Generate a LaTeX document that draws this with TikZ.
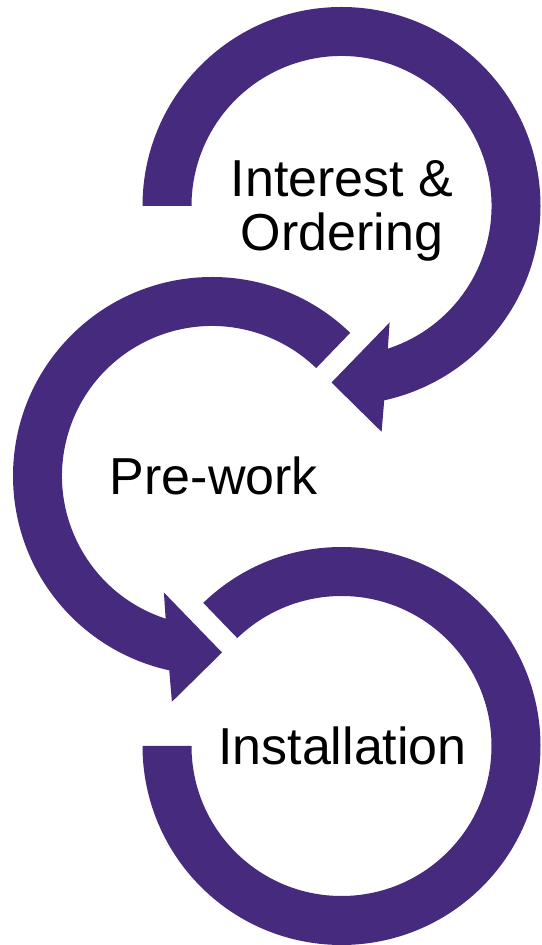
\documentclass[tikz,border=0pt]{standalone}
\usepackage{fontspec}
\setmainfont{Liberation Sans}
\usetikzlibrary{calc}
\definecolor{arcpurple}{HTML}{452A7D}
\begin{document}
\begin{tikzpicture}[x=1pt,y=1pt,
  bandfill/.style={fill=arcpurple},
  label/.style={anchor=base,inner sep=0pt,font=\fontsize{52}{54}\selectfont,text=black}]
\useasboundingbox (0,0) rectangle (541,945);
\coordinate (c1) at (341.5,739);
\coordinate (c2) at (212,469);
\coordinate (c3) at (341.5,199);
% arrowhead points, circle 1
\coordinate (h1a) at (389.6,622.5);
\coordinate (h1t) at (331.5,562.5);
\coordinate (h1b) at (381.6,513.2);
% arrowhead points, circle 2
\coordinate (h2a) at (163.9,352.5);
\coordinate (h2t) at (222.0,292.5);
\coordinate (h2b) at (171.9,243.2);
% circle 1 arrow
\fill[bandfill] ($(c1)+(180:199)$) arc[start angle=180,end angle=-77.6,radius=199]
  -- (h1b) -- (h1t) -- (h1a) -- ($(c1)+(-72:150)$)
  arc[start angle=-72,end angle=180,radius=150] -- cycle;
% circle 2 arrow
\fill[bandfill] ($(c2)+(46:199)$) arc[start angle=46,end angle=257.6,radius=199]
  -- (h2b) -- (h2t) -- (h2a) -- ($(c2)+(252:150)$)
  arc[start angle=252,end angle=46,radius=150] -- cycle;
% circle 3 arc
\fill[bandfill] ($(c3)+(134:199)$) arc[start angle=134,end angle=-180,radius=199]
  -- ($(c3)+(180:150)$) arc[start angle=-180,end angle=134,radius=150] -- cycle;
% labels
\node[label] (t1a) at (342,748) {Interest \&};
\node[label] (t1b) at (342,694) {Ordering};
\node[label] (t2) at (214,450) {Pre-work};
\node[label] (t3) at (342.5,180) {Installation};
\end{tikzpicture}
\end{document}
